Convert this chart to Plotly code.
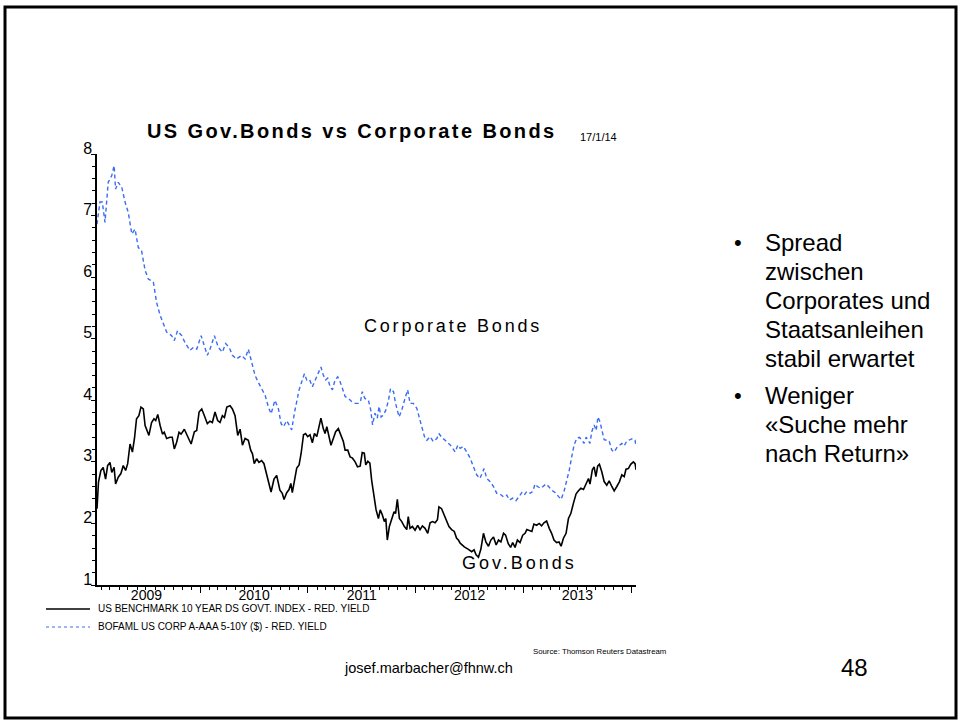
import plotly.graph_objects as go
import pandas as pd

# ---------------------------------------------------------------
# Weekly yield observations, stored as day offsets from START
# ---------------------------------------------------------------
START = "2009-01-16"
END_DAY = 1827  # 17/1/14

gov_days = [
    0, 5, 13, 21, 29, 36, 44, 50, 58, 63, 72, 81, 89, 97, 104, 112, 120, 127, 134, 142,
    149, 157, 163, 176, 185, 193, 199, 206, 214, 222, 228, 236, 247, 255, 262, 270, 278, 285, 296, 307,
    319, 330, 338, 346, 355, 364, 374, 383, 391, 400, 409, 417, 425, 432, 440, 451, 459, 468, 477, 485,
    493, 502, 513, 521, 527, 533, 541, 549, 558, 566, 575, 583, 590, 600, 609,
    620, 628, 634, 643, 651, 657, 662, 669, 677, 685, 692, 700, 707, 714, 722, 730, 737, 745, 753, 759,
    767, 773, 779, 787, 793, 801, 809, 818, 827, 835, 841, 850, 858, 866, 875, 883, 892, 899, 906, 911,
    918, 925, 931, 939, 946, 954, 960, 967, 974, 979, 984, 991, 999, 1007, 1012, 1018, 1025, 1033, 1042, 1050,
    1055, 1061, 1069, 1078, 1087, 1095, 1103, 1112, 1121, 1129, 1137, 1146, 1154, 1159, 1168, 1177, 1185, 1193, 1202, 1211,
    1219, 1225, 1231, 1238, 1245,
    1259, 1270, 1278, 1285, 1293, 1301, 1310, 1318, 1327, 1335, 1344, 1353, 1361, 1369, 1378, 1385, 1394, 1402, 1409, 1417,
    1425, 1434, 1443, 1451, 1457, 1466, 1474, 1481, 1490, 1499, 1507, 1515, 1524, 1533, 1541, 1549, 1558, 1566, 1573, 1581,
    1590, 1598, 1606, 1615, 1624, 1632, 1640, 1649, 1658, 1666, 1671, 1679, 1685, 1691, 1697, 1703, 1711, 1719, 1728, 1736,
    1745, 1753, 1762, 1771, 1779, 1787, 1793, 1801, 1809, 1818, 1824, 1827,
]
gov_yield = [
    2.24, 2.67, 2.86, 2.91, 2.72, 2.94, 2.99, 2.83, 2.91, 2.64, 2.75, 2.81, 2.94, 2.86, 2.97, 3.29, 3.16, 3.38, 3.70, 3.75,
    3.89, 3.86, 3.59, 3.43, 3.64, 3.70, 3.67, 3.77, 3.59, 3.45, 3.48, 3.38, 3.40, 3.40, 3.21, 3.32, 3.48, 3.45, 3.53, 3.40,
    3.29, 3.49, 3.51, 3.81, 3.86, 3.75, 3.62, 3.66, 3.64, 3.81, 3.67, 3.64, 3.75, 3.72, 3.89, 3.91, 3.86, 3.75, 3.43, 3.53,
    3.27, 3.38, 3.35, 3.19, 3.13, 2.97, 3.05, 2.99, 3.02, 2.97, 2.81, 2.64, 2.51, 2.72, 2.78,
    2.54, 2.49, 2.39, 2.50, 2.55, 2.65, 2.50, 2.70, 2.90, 2.95, 3.14, 3.44, 3.46, 3.41, 3.44, 3.31, 3.46, 3.41, 3.57, 3.71,
    3.54, 3.46, 3.57, 3.41, 3.27, 3.38, 3.49, 3.54, 3.44, 3.33, 3.19, 3.19, 3.08, 3.06, 3.00, 2.92, 2.93, 3.15, 3.14, 2.95,
    3.01, 2.98, 2.70, 2.43, 2.22, 2.08, 2.22, 2.14, 2.03, 2.08, 1.73, 1.95, 2.06, 2.19, 2.16, 2.39, 2.08, 2.03, 1.95, 1.90,
    2.11, 1.92, 1.95, 1.89, 1.97, 1.90, 1.96, 1.92, 1.84, 2.01, 2.03, 2.01, 2.06, 2.27, 2.24, 2.14, 2.06, 1.95, 1.90, 1.87,
    1.76, 1.73, 1.68, 1.65, 1.62,
    1.58, 1.54, 1.57, 1.49, 1.45, 1.58, 1.84, 1.70, 1.63, 1.73, 1.78, 1.65, 1.73, 1.70, 1.84, 1.81, 1.67, 1.61, 1.69, 1.61,
    1.73, 1.69, 1.81, 1.84, 1.90, 1.88, 1.87, 1.99, 1.97, 2.00, 1.96, 2.01, 2.04, 1.92, 1.84, 1.73, 1.69, 1.70, 1.63, 1.76,
    1.84, 2.08, 2.16, 2.33, 2.48, 2.53, 2.57, 2.55, 2.65, 2.73, 2.64, 2.87, 2.92, 2.76, 2.93, 2.96, 2.84, 2.68, 2.62, 2.69,
    2.60, 2.53, 2.60, 2.68, 2.79, 2.76, 2.88, 2.89, 2.96, 3.00, 2.97, 2.87,
]

corp_days = [
    0, 10, 18, 27, 38, 50, 58, 63, 72, 84, 95, 106, 118, 129, 140, 151, 163, 174, 191, 202,
    214, 225, 236, 253, 262, 273, 287, 298, 315, 327, 338, 353, 366, 374, 383, 398, 411, 425, 436, 448,
    459, 473, 490, 502, 513, 524, 536, 547, 558, 570, 581, 590, 603, 615,
    624, 632, 643, 651, 660, 669, 677, 685, 694, 703, 711, 720, 730, 737, 745, 753, 759, 767, 775, 782,
    790, 798, 807, 816, 824, 832, 841, 852, 863, 875, 886, 894, 899, 908, 920, 928, 934, 942, 950, 956,
    963, 971, 979, 988, 995, 1005, 1012, 1024, 1033, 1044, 1053, 1061, 1072, 1084, 1092, 1101, 1110, 1118, 1129, 1140,
    1152, 1159, 1168, 1180, 1191, 1202, 1214, 1223, 1231, 1242,
    1253, 1265, 1276, 1287, 1298, 1306, 1312, 1321, 1332, 1344, 1355, 1366, 1378, 1389, 1398, 1409, 1420, 1428, 1440, 1448,
    1457, 1468, 1477, 1485, 1493, 1504, 1513, 1522, 1531, 1541, 1553, 1564, 1573, 1583, 1592, 1601, 1609, 1617, 1626, 1635,
    1643, 1651, 1658, 1666, 1671, 1677, 1685, 1692, 1698, 1705, 1713, 1719, 1728, 1736, 1745, 1753, 1762, 1771, 1779, 1787,
    1796, 1807, 1816, 1824, 1827,
]
corp_yield = [
    6.86, 7.22, 7.22, 6.89, 7.54, 7.65, 7.81, 7.43, 7.54, 7.46, 7.22, 7.05, 6.70, 6.78, 6.48, 6.43, 6.11, 5.97, 5.92, 5.59,
    5.38, 5.24, 5.11, 5.05, 4.97, 5.13, 5.05, 4.94, 4.81, 4.86, 4.83, 5.05, 4.83, 4.73, 4.83, 5.05, 4.86, 4.78, 4.92, 4.86,
    4.73, 4.67, 4.73, 4.67, 4.83, 4.62, 4.40, 4.29, 4.19, 4.08, 3.89, 3.78, 4.00, 3.86,
    3.62, 3.57, 3.67, 3.60, 3.52, 3.79, 4.00, 4.17, 4.30, 4.43, 4.33, 4.34, 4.22, 4.30, 4.36, 4.46, 4.54, 4.41, 4.33, 4.36,
    4.22, 4.17, 4.33, 4.38, 4.30, 4.19, 4.06, 4.03, 3.98, 3.95, 3.95, 4.00, 4.14, 4.03, 4.00, 3.84, 3.60, 3.79, 3.71, 3.90,
    3.73, 3.76, 3.84, 4.00, 4.19, 4.14, 3.95, 3.73, 3.84, 4.03, 4.17, 3.95, 3.95, 3.87, 3.73, 3.60, 3.41, 3.35, 3.41, 3.33,
    3.38, 3.46, 3.40, 3.35, 3.30, 3.25, 3.16, 3.27, 3.22, 3.25,
    3.16, 3.06, 2.92, 2.79, 2.73, 2.81, 2.89, 2.73, 2.68, 2.60, 2.49, 2.48, 2.43, 2.46, 2.38, 2.41, 2.37, 2.42, 2.50, 2.46,
    2.52, 2.49, 2.52, 2.64, 2.60, 2.57, 2.61, 2.64, 2.60, 2.54, 2.50, 2.44, 2.39, 2.52, 2.68, 2.87, 3.08, 3.27, 3.38, 3.40,
    3.36, 3.30, 3.40, 3.35, 3.30, 3.49, 3.60, 3.51, 3.73, 3.65, 3.49, 3.36, 3.35, 3.34, 3.19, 3.16, 3.23, 3.26, 3.30, 3.26,
    3.34, 3.36, 3.38, 3.35, 3.25,
]

y_ticks = [1, 2, 3, 4, 5, 6, 7, 8]

TITLE = "US Gov.Bonds vs Corporate Bonds"
DATE_STAMP = "17/1/14"
GOV_LABEL = "Gov.Bonds"
CORP_LABEL = "Corporate Bonds"
GOV_LEGEND = "US BENCHMARK 10 YEAR DS GOVT. INDEX - RED. YIELD"
CORP_LEGEND = "BOFAML US CORP A-AAA 5-10Y ($) - RED. YIELD"
SOURCE = "Source: Thomson Reuters Datastream"
BULLETS = [
    ["Spread", "zwischen", "Corporates und", "Staatsanleihen", "stabil erwartet"],
    ["Weniger", "«Suche mehr", "nach Return»"],
]
FOOTER = "josef.marbacher@fhnw.ch"
PAGE_NO = "48"

FONT = "Liberation Sans, Arial, sans-serif"
BLUE = "#3a6cf4"

# ---------------------------------------------------------------
start = pd.Timestamp(START)
gov_x = start + pd.to_timedelta(gov_days, unit="D")
corp_x = start + pd.to_timedelta(corp_days, unit="D")
end = start + pd.Timedelta(days=END_DAY)

W, H = 961, 723
L, R, T, B = 97, 636, 154, 585   # plot area edges in page pixels


def fx(x):
    return (x - L) / (R - L)


def fy(y):
    return (B - y) / (B - T)


def spaced(text, px):
    return f'<span style="letter-spacing:{px}px">{text}</span>'


fig = go.Figure()
fig.add_trace(go.Scatter(
    x=gov_x, y=gov_yield, mode="lines", name=GOV_LEGEND,
    line=dict(color="black", width=1.6), showlegend=False,
))
fig.add_trace(go.Scatter(
    x=corp_x, y=corp_yield, mode="lines", name=CORP_LEGEND,
    line=dict(color=BLUE, width=1.4, dash="4px,3px"), showlegend=False,
))

ann = []


def text(x, y, s, size, anchor="left", color="black", valign="middle"):
    ann.append(dict(
        x=fx(x), y=fy(y), xref="paper", yref="paper", text=s, showarrow=False,
        xanchor=anchor, yanchor=valign, font=dict(family=FONT, size=size, color=color),
    ))


text(352, 131, "<b>" + spaced(TITLE, 2.4) + "</b>", 20, anchor="center")
text(578, 137, DATE_STAMP, 11)
text(453, 326, spaced(CORP_LABEL, 2.8), 18, anchor="center")
text(519, 563, spaced(GOV_LABEL, 3.0), 18, anchor="center")
text(96, 608, GOV_LEGEND, 10)
text(96, 626, CORP_LEGEND, 10)
text(668, 651, SOURCE, 7.8, anchor="right")

line_y = 242
for group in BULLETS:
    text(738, line_y, "•", 22, anchor="center")
    for line in group:
        text(763, line_y, line, 24)
        line_y += 29
    line_y += 8

text(428, 668, FOOTER, 14.5, anchor="center")
text(854, 667, PAGE_NO, 24, anchor="center")

shapes = [
    # legend line samples
    dict(type="line", xref="paper", yref="paper", x0=fx(46), x1=fx(90), y0=fy(609), y1=fy(609),
         line=dict(color="black", width=1.3)),
    dict(type="line", xref="paper", yref="paper", x0=fx(46), x1=fx(90), y0=fy(627), y1=fy(627),
         line=dict(color=BLUE, width=1.2, dash="3px,3px")),
    # slide frame
    dict(type="rect", xref="paper", yref="paper", x0=fx(5), x1=fx(956), y0=fy(7), y1=fy(718),
         line=dict(color="black", width=3), fillcolor="rgba(0,0,0,0)"),
]

fig.update_layout(
    width=W, height=H,
    margin=dict(l=L, r=W - R, t=T, b=H - B, pad=0),
    paper_bgcolor="white", plot_bgcolor="white",
    showlegend=False,
    annotations=ann, shapes=shapes,
    font=dict(family=FONT, color="black"),
    xaxis=dict(
        type="date", range=[start, end],
        showgrid=False, zeroline=False,
        showline=True, linecolor="black", linewidth=1.5,
        ticks="outside", ticklen=6, tickwidth=1, tickcolor="black",
        dtick="M12", tick0="2009-01-01", tickformat="%Y", ticklabelmode="period",
        tickfont=dict(family=FONT, size=14, color="black"),
        ticklabelstandoff=-10,
        minor=dict(ticks="outside", ticklen=3, dtick="M1", tick0="2009-01-01",
                   tickcolor="black", tickwidth=1, showgrid=False),
    ),
    yaxis=dict(
        range=[1, 8], tickvals=y_ticks,
        showgrid=False, zeroline=False,
        showline=True, linecolor="black", linewidth=1.5,
        ticks="outside", ticklen=4, tickwidth=1, tickcolor="black",
        tickfont=dict(family=FONT, size=16, color="black"),
        ticklabelshift=-6, ticklabelstandoff=-4,
        minor=dict(ticks="outside", ticklen=3, dtick=0.2, tickcolor="black",
                   tickwidth=1, showgrid=False),
    ),
)

fig.write_html("out.html")
